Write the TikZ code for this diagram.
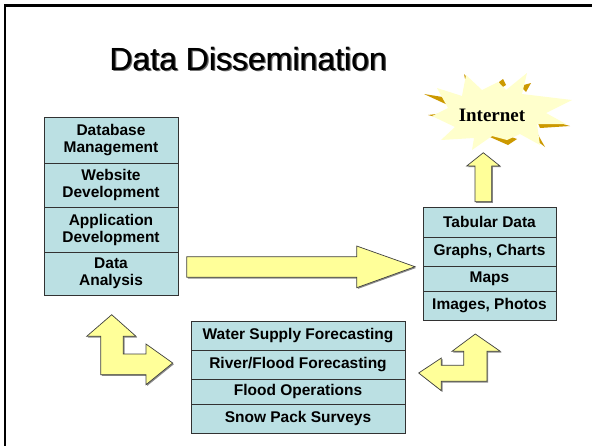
\documentclass[tikz,border=0pt]{standalone}
\usepackage{fontspec}
\setmainfont{Liberation Sans}
\newfontfamily\timesf{Liberation Serif}
\definecolor{cellblue}{RGB}{187,224,227}
\definecolor{celledge}{RGB}{50,50,50}
\definecolor{arrowyellow}{RGB}{255,255,153}
\definecolor{starpale}{RGB}{255,255,204}
\definecolor{stargold}{RGB}{204,153,0}
\begin{document}
\begin{tikzpicture}[x=1pt,y=-1pt,
  cell/.style={draw=celledge, line width=0.9pt, fill=cellblue, inner sep=0pt, align=center,
    font=\fontsize{15.5}{17}\selectfont\bfseries},
  blockarrow/.style={draw=black!75, line width=0.7pt, fill=arrowyellow, line join=miter},
  arrowshadow/.style={fill=black!45, draw=none},
  titlefont/.style={font=\fontsize{32}{36}\selectfont, anchor=base}]
\useasboundingbox (0,0) rectangle (592,445);
\fill[white] (0,0) rectangle (592,445);
% frame
\draw[line width=2.2pt] (5.3,450) -- (5.3,5.5) -- (600,5.5);
% title (with shadow)
\node[titlefont, text=black!55] (titleshadow) at (249.6,71.6) {Data Dissemination};
\node[titlefont, text=black!85] (titleshadowb) at (248.7,70.7) {Data Dissemination};
\node[titlefont] (title) at (248,70) {Data Dissemination};

% left stack
\node[cell, minimum width=134pt, minimum height=46pt] (db) at (111,140) {Database\\Management};
\node[cell, minimum width=134pt, minimum height=44pt] (web) at (111,185) {Website\\Development};
\node[cell, minimum width=134pt, minimum height=45pt] (app) at (111,229.5) {Application\\Development};
\node[cell, minimum width=134pt, minimum height=43pt] (ana) at (111,273.5) {Data\\Analysis};

% right stack
\node[cell, minimum width=133pt, minimum height=30pt] (tab) at (489.5,222) {Tabular Data};
\node[cell, minimum width=133pt, minimum height=29pt] (gra) at (489.5,251.5) {Graphs, Charts};
\node[cell, minimum width=133pt, minimum height=25pt] (map) at (489.5,278.5) {Maps};
\node[cell, minimum width=133pt, minimum height=29pt] (img) at (489.5,305.5) {Images, Photos};

% bottom stack
\node[cell, minimum width=214pt, minimum height=29pt] (wsf) at (298,335.5) {Water Supply Forecasting};
\node[cell, minimum width=214pt, minimum height=29pt] (rff) at (298,364.5) {River/Flood Forecasting};
\node[cell, minimum width=214pt, minimum height=25pt] (fop) at (298,391.5) {Flood Operations};
\node[cell, minimum width=214pt, minimum height=29pt] (sps) at (298,418.5) {Snow Pack Surveys};

% big right arrow
\def\bigarrow{(186.7,256.7) -- (356.7,256.7) -- (356.7,246) -- (415,266.7) -- (356.7,287.7) -- (356.7,277.3) -- (186.7,277.3) -- cycle}
\fill[arrowshadow, shift={(1.2,1.2)}] \bigarrow;
\path[blockarrow] \bigarrow;

% up arrow to internet
\def\uparrow{(483.3,152.7) -- (500,166) -- (491.7,166) -- (491.7,201.7) -- (475,201.7) -- (475,166) -- (466.7,166) -- cycle}
\fill[arrowshadow, shift={(1.2,1.2)}] \uparrow;
\path[blockarrow] \uparrow;

% left bent arrow
\def\leftbent{(111.7,314.7) -- (136,336.3) -- (123.3,336.3) -- (123.3,354) -- (146,354) -- (146,344) -- (172.7,363) -- (146,384.7) -- (146,374.7) -- (100.7,374.7) -- (100.7,336.3) -- (86.7,336.3) -- cycle}
\fill[arrowshadow, shift={(1.2,1.2)}] \leftbent;
\path[blockarrow] \leftbent;

% right bent arrow
\def\rightbent{(475.3,334) -- (500.3,351.3) -- (487,351.3) -- (487,381.3) -- (441.3,381.3) -- (441.3,390.7) -- (418.7,373) -- (441.3,358) -- (441.3,365.3) -- (463.7,365.3) -- (463.7,351.3) -- (452,351.3) -- cycle}
\fill[arrowshadow, shift={(1.2,1.2)}] \rightbent;
\path[blockarrow] \rightbent;

% internet starburst
\fill[stargold] (424,94) -- (455,99) -- (450,106) -- cycle;
\fill[stargold] (464,74) -- (478,90) -- (468,93) -- cycle;
\fill[stargold] (499,82) -- (503,79) -- (506,85) -- (501,88) -- cycle;
\fill[stargold] (520,86) -- (531,83) -- (526,92) -- cycle;
\fill[stargold] (535,116) -- (570,126) -- (540,128) -- cycle;
\fill[stargold] (523,130) -- (537,133) -- (545,147) -- cycle;
\fill[stargold] (490,137) -- (500,133) -- (517,139) -- (508,145) -- cycle;
\fill[stargold] (428,115) -- (445,113) -- (440,118) -- cycle;
\path[fill=starpale] (432,116) -- (448,108) -- (437,88) -- (462,96) -- (466,75) -- (482,90) -- (498,82) -- (506,90)
  -- (527,73) -- (522,94) -- (572,100) -- (546,113) -- (566,124) -- (537,124) -- (540,145) -- (520,134)
  -- (507,140) -- (492,136) -- (472,150) -- (474,138) -- (441,140) -- (455,127) -- cycle;
\node[font=\timesf\fontsize{19}{22}\selectfont\bfseries, anchor=base] (internet) at (492,121.7) {Internet};
\end{tikzpicture}
\end{document}
